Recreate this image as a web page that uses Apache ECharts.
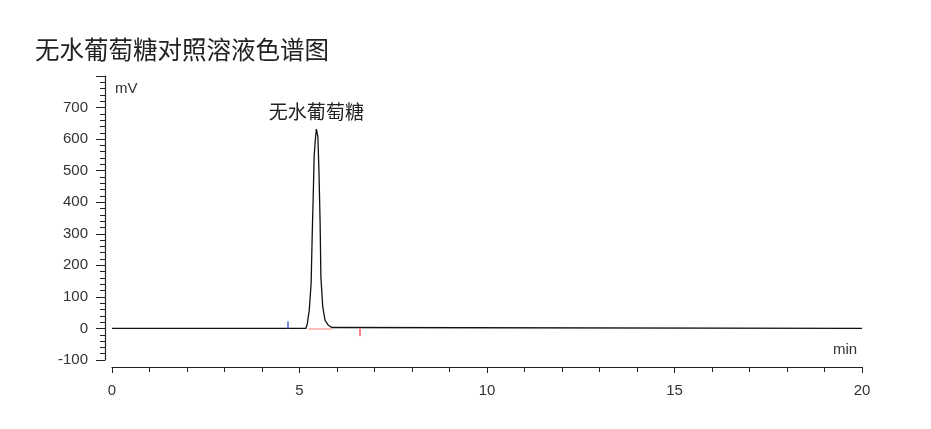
<!DOCTYPE html>
<html>
<head>
<meta charset="utf-8">
<script src="https://cdn.jsdelivr.net/npm/echarts@6/dist/echarts.min.js"></script>
<style>
	html, body { margin: 0; padding: 0; background: #fff; }
	#main { width: 931px; height: 429px; }
</style>
</head>
<body>
<div id="main"></div>
<script>
// 色谱图数据：时间(min), 信号(mV)
var peakName = '无水葡萄糖';
var peakTime = 5.45;
var peakHeight = 632;
var traceTime = [0, 5.17, 5.21, 5.26, 5.31, 5.34, 5.37, 5.39, 5.43, 5.45, 5.49, 5.52, 5.55, 5.57, 5.62, 5.68, 5.77, 5.86, 5.89, 20];
var traceSignal = [0, 0, 16, 58, 143, 302, 440, 546, 609, 632, 609, 492, 333, 164, 69, 26, 10, 3, 0, 0];
// 积分标记：起点(蓝)、终点(红)、基线(粉)
var startMark = [4.69, 22];
var endMark = [6.61, -25];
var baseLine = [5.24, 5.87];
var yTicks = [-100, 0, 100, 200, 300, 400, 500, 600, 700];
var xTicks = [0, 5, 10, 15, 20];

(function() {
	var myChart = echarts.init(document.getElementById('main'));
	var numFont = 'Liberation Sans';
	var cjkFont = 'Noto Sans CJK SC';

	var data = traceTime.map(function(t, i) {
		return [t, traceSignal[i]];
	});

	var option = {
		animation: false,
		title: {
			text: '无水葡萄糖对照溶液色谱图',
			left: 30,
			top: 32,
			textStyle: { fontFamily: cjkFont, fontSize: 24.5, fontWeight: 'normal', color: '#222' }
		},
		grid: { left: 112, right: 69, top: 76, bottom: 69 },
		graphic: [
			{ type: 'text', left: 115, top: 81, style: { text: 'mV', font: '15px ' + numFont, fill: '#333' } },
			{ type: 'text', left: 833, top: 342, style: { text: 'min', font: '15px ' + numFont, fill: '#333' } }
		],
		xAxis: {
			type: 'value',
			min: xTicks[0],
			max: xTicks[xTicks.length - 1],
			interval: 5,
			offset: 7,
			splitLine: { show: false },
			axisLine: { onZero: false, lineStyle: { color: '#222', width: 1.2 } },
			axisTick: { length: 6, lineStyle: { color: '#222' } },
			minorTick: { show: true, splitNumber: 5, length: 5, lineStyle: { color: '#222' } },
			axisLabel: { margin: 16, fontFamily: numFont, fontSize: 15, color: '#333' }
		},
		yAxis: {
			type: 'value',
			min: -100,
			max: 800,
			interval: 100,
			offset: 7,
			splitLine: { show: false },
			axisLine: { show: true, onZero: false, lineStyle: { color: '#222', width: 1.2 } },
			axisTick: { show: true, length: 9, lineStyle: { color: '#222' } },
			minorTick: { show: true, splitNumber: 5, length: 5, lineStyle: { color: '#222' } },
			axisLabel: {
				margin: 17,
				fontFamily: numFont,
				fontSize: 15,
				color: '#333',
				formatter: function(v) { return yTicks.indexOf(v) >= 0 ? String(v) : ''; }
			}
		},
		series: [{
			type: 'line',
			data: data,
			symbol: 'none',
			lineStyle: { color: '#111', width: 1.3 },
			markPoint: {
				silent: true,
				data: [{
					coord: [peakTime, peakHeight],
					symbol: 'circle',
					symbolSize: 1,
					itemStyle: { color: 'rgba(0,0,0,0)' },
					label: {
						show: true,
						position: 'top',
						distance: 7,
						formatter: peakName,
						fontFamily: cjkFont,
						fontSize: 19,
						color: '#222'
					}
				}]
			},
			markLine: {
				silent: true,
				symbol: 'none',
				label: { show: false },
				data: [
					[{ coord: [startMark[0], 0], lineStyle: { color: '#4466cc', width: 1.5, type: 'solid' } }, { coord: [startMark[0], startMark[1]] }],
					[{ coord: [endMark[0], 0], lineStyle: { color: '#ff5566', width: 1.5, type: 'solid' } }, { coord: [endMark[0], endMark[1]] }],
					[{ coord: [baseLine[0], 0], lineStyle: { color: '#ffaaaa', width: 1.5, type: 'solid' } }, { coord: [baseLine[1], 0] }]
				]
			}
		}]
	};
	myChart.setOption(option);
})();
</script>
</body>
</html>
